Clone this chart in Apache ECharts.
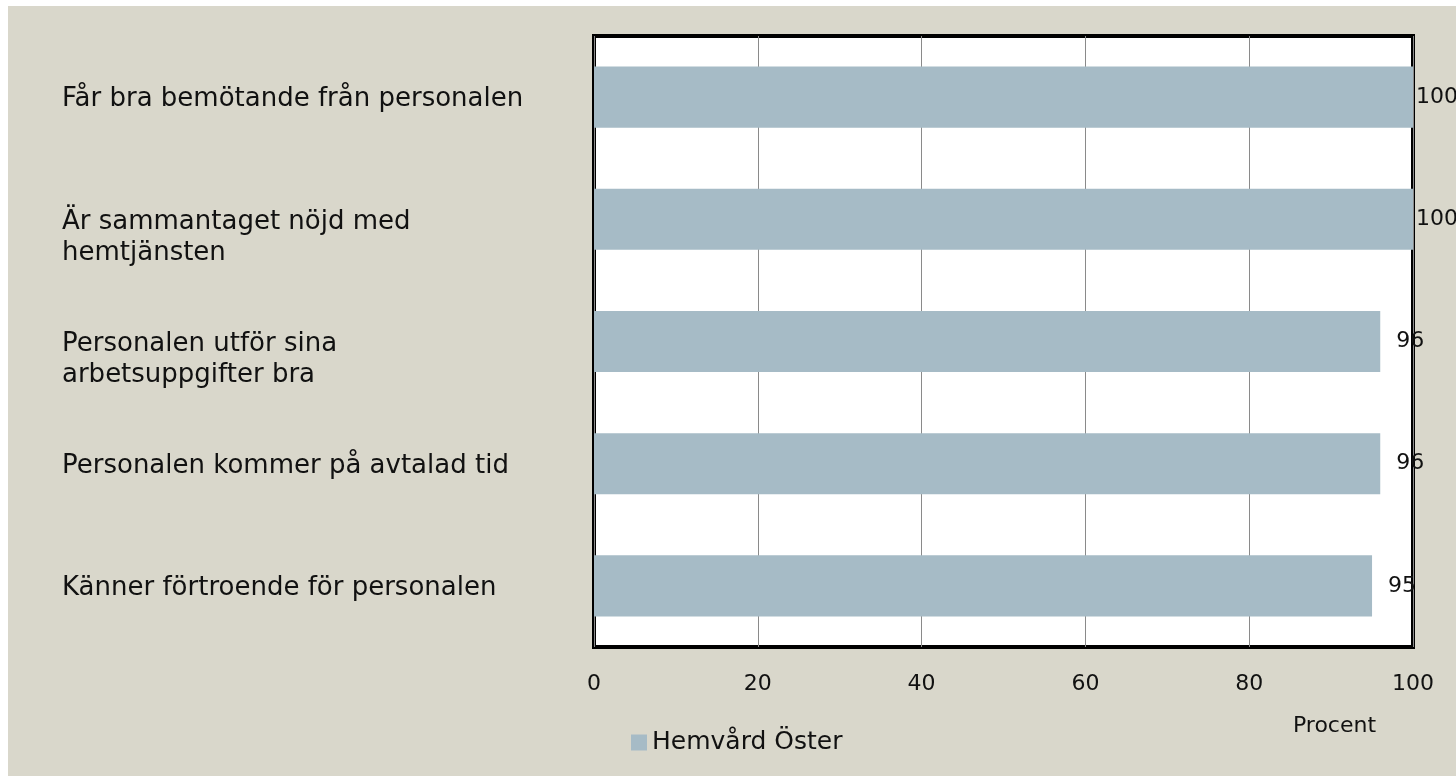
<!DOCTYPE html>
<html>
<head>
<meta charset="utf-8">
<script src="https://cdn.jsdelivr.net/npm/echarts@6/dist/echarts.min.js"></script>
<style>
  html, body { margin: 0; padding: 0; background: #ffffff; }
  #chart { position: absolute; left: 8px; top: 6px; width: 1448px; height: 770px; }
</style>
</head>
<body>
<div id="chart"></div>
<script>
// kategorier uppifrån och ned
const categories = [
  'Får bra bemötande från personalen',
  'Är sammantaget nöjd med\nhemtjänsten',
  'Personalen utför sina\narbetsuppgifter bra',
  'Personalen kommer på avtalad tid',
  'Känner förtroende för personalen'
]
const values = [100, 100, 96, 96, 95]
const seriesName = 'Hemvård Öster'
const axisName = 'Procent'

const font = 'DejaVu Sans'
const chart = echarts.init(document.getElementById('chart'))

chart.setOption({
  backgroundColor: '#d9d7cb',
  animation: false,
  textStyle: { fontFamily: font, color: '#111' },
  grid: {
    left: 586,
    right: 43,
    top: 30,
    bottom: 129,
    show: true,
    backgroundColor: '#ffffff',
    borderColor: '#000',
    borderWidth: 4
  },
  legend: {
    data: [seriesName],
    icon: 'rect',
    left: 618,
    top: 719,
    itemWidth: 16,
    itemHeight: 16,
    itemGap: 6,
    textStyle: { fontFamily: font, fontSize: 25, color: '#111' }
  },
  xAxis: {
    type: 'value',
    min: 0,
    max: 100,
    interval: 20,
    name: axisName,
    nameLocation: 'middle',
    nameGap: 68,
    nameTextStyle: { fontFamily: font, fontSize: 22, color: '#111', padding: [0, 0, 0, 662] },
    axisLine: { show: false },
    axisTick: { show: false },
    axisLabel: { fontSize: 22, color: '#111', margin: 26 },
    splitLine: { lineStyle: { color: '#8a8a8a', width: 1 } }
  },
  yAxis: {
    type: 'category',
    inverse: true,
    data: categories,
    axisLine: { show: false },
    axisTick: { show: false },
    axisLabel: {
      fontSize: 26,
      color: '#111',
      align: 'left',
      verticalAlign: 'top',
      lineHeight: 31,
      padding: [-13, 0, 0, 0],
      margin: 532
    }
  },
  series: [{
    name: seriesName,
    type: 'bar',
    barWidth: '50%',
    itemStyle: { color: '#a6bbc6' },
    data: values.map(v => ({
      value: v,
      label: { distance: v >= 100 ? 3 : 16 }
    })),
    label: {
      show: true,
      position: 'right',
      fontSize: 22,
      color: '#111',
      fontFamily: font
    }
  }]
})
</script>
</body>
</html>
